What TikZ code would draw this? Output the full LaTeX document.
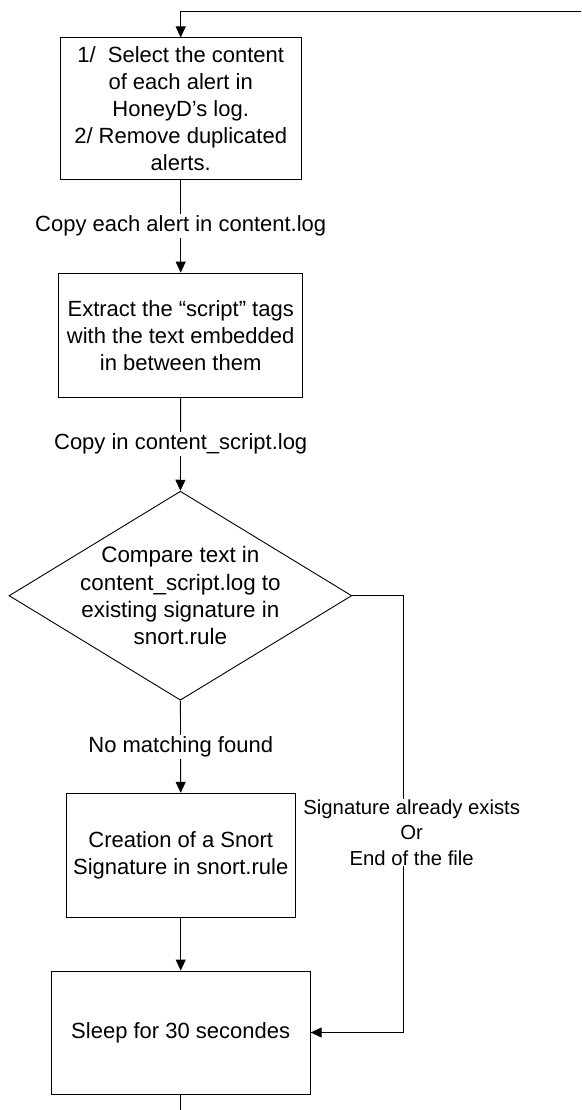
\documentclass[tikz,border=0pt]{standalone}
\usepackage{fontspec}
\setmainfont{Liberation Sans}
\usetikzlibrary{shapes.geometric,arrows.meta}
\begin{document}
\begin{tikzpicture}[x=1pt,y=-1pt,
  every node/.style={font=\fontsize{22}{27}\selectfont, align=center, inner sep=0pt},
  procbox/.style={draw, line width=0.9pt, rectangle},
  decbox/.style={draw, line width=0.9pt, diamond, aspect=1.64},
  lbl/.style={fill=white, inner sep=2pt},
  conn/.style={line width=0.9pt},
  arr/.style={conn, -{Triangle[length=11pt,width=10pt]}}]
\useasboundingbox (0,0) rectangle (581,1110);

\node[procbox, minimum width=240.5pt, minimum height=141.5pt] (b1) at (180.7,108.7)
  {1/\ \ Select the content\\of each alert in\\HoneyD’s log.\\2/ Remove duplicated\\alerts.};
\node[procbox, minimum width=244.2pt, minimum height=124.3pt] (b2) at (180.7,335.2)
  {Extract the “script” tags\\with the text embedded\\in between them};
\node[decbox, minimum width=342.7pt, minimum height=209pt,
  label={[font=\fontsize{22.4}{27.4}\selectfont, align=center]center:Compare text in\\content\_script.log to\\existing signature in\\snort.rule}] (d) at (180.4,595.7) {};
\node[procbox, minimum width=228.7pt, minimum height=124.4pt] (b3) at (180.7,855.5)
  {Creation of a Snort\\Signature in snort.rule};
\node[procbox, minimum width=259pt, minimum height=123pt] (b4) at (180.7,1032.5)
  {Sleep for 30 secondes};

\coordinate (topR) at (581,11);
\coordinate (corner) at (403.3,595.7);
\coordinate (botEnd) at (180.7,1110);

\draw[arr] (topR) -| (b1.north);
\draw[arr] (b1.south) -- (b2.north);
\draw[arr] (b2.south) -- (d.north);
\draw[arr] (d.south) -- (b3.north);
\draw[arr] (b3.south) -- (b4.north);
\draw[arr] (d.east) -- (corner) |- (b4.east);
\draw[conn] (b4.south) -- (botEnd);

\node[lbl] (l1) at (180.7,226) {Copy each alert in content.log};
\node[lbl] (l2) at (180.7,444) {Copy in content\_script.log};
\node[lbl] (l3) at (180.7,747) {No matching found};
\node[lbl, inner sep=1pt, font=\fontsize{20.3}{25.3}\selectfont] (l4) at (411.7,832.5)
  {Signature already exists\\Or\\End of the file};
\end{tikzpicture}
\end{document}
